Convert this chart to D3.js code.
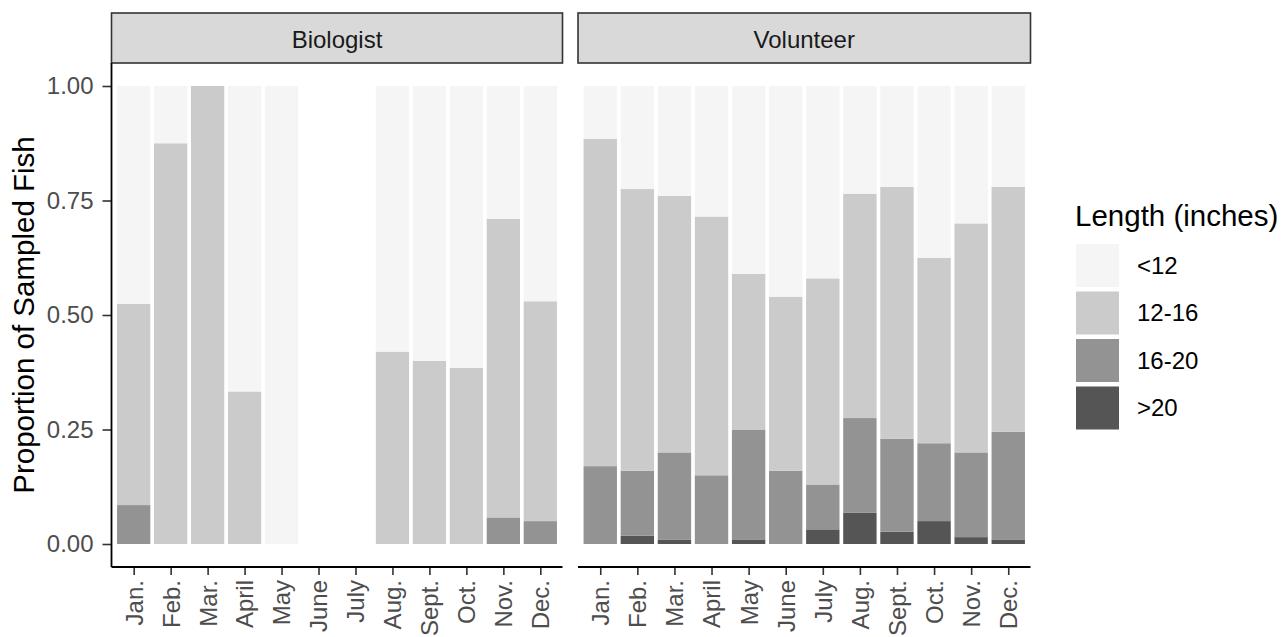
<!DOCTYPE html>
<html>
<head>
<meta charset="utf-8">
<script src="https://cdn.jsdelivr.net/npm/d3@7"></script>
<style>
  html, body { margin: 0; padding: 0; background: #fff; }
  svg { display: block; font-family: "Liberation Sans", Arial, sans-serif; }
</style>
</head>
<body>
<svg id="chart" width="1287" height="637"></svg>
<script>
// Month categories and length classes
const months = ["Jan.", "Feb.", "Mar.", "April", "May", "June", "July", "Aug.", "Sept.", "Oct.", "Nov.", "Dec."];
const lengthClasses = ["<12", "12-16", "16-20", ">20"];
const panels = ["Biologist", "Volunteer"];
const yTicks = [0, 0.25, 0.5, 0.75, 1.0];

// Proportions per month (null = no fish sampled that month)
const bioUnder12 = [0.476, 0.125, 0.0, 0.667, 1.0, null, null, 0.58, 0.60, 0.615, 0.29, 0.47];
const bio12to16  = [0.439, 0.875, 1.0, 0.333, 0.0, null, null, 0.42, 0.40, 0.385, 0.652, 0.48];
const bio16to20  = [0.085, 0.0, 0.0, 0.0, 0.0, null, null, 0.0, 0.0, 0.0, 0.058, 0.05];
const bioOver20  = [0.0, 0.0, 0.0, 0.0, 0.0, null, null, 0.0, 0.0, 0.0, 0.0, 0.0];

const volUnder12 = [0.115, 0.225, 0.24, 0.285, 0.41, 0.46, 0.42, 0.235, 0.22, 0.375, 0.30, 0.22];
const vol12to16  = [0.715, 0.615, 0.56, 0.565, 0.34, 0.38, 0.45, 0.49, 0.55, 0.405, 0.50, 0.535];
const vol16to20  = [0.17, 0.142, 0.191, 0.15, 0.24, 0.16, 0.098, 0.207, 0.203, 0.17, 0.185, 0.235];
const volOver20  = [0.0, 0.018, 0.009, 0.0, 0.01, 0.0, 0.032, 0.068, 0.027, 0.05, 0.015, 0.01];

const fillColors = ["#f5f5f5", "#cbcbcb", "#939393", "#555555"];

const seriesByPanel = {
  "Biologist": [bioUnder12, bio12to16, bio16to20, bioOver20],
  "Volunteer": [volUnder12, vol12to16, vol16to20, volOver20]
};

const svg = d3.select("#chart");

// Panel geometry
const panelTop = 63, panelBottom = 567;
const panelX = { "Biologist": [111.5, 562.5], "Volunteer": [578, 1030.5] };
const stripTop = 13, stripBottom = 63;
const smallFont = 24, largeFont = 29.5;

const y = d3.scaleLinear().domain([0, 1]).range([544, 86]);
const color = d3.scaleOrdinal().domain(lengthClasses).range(fillColors);

panels.forEach((p, pi) => {
  const [x0, x1] = panelX[p];
  // Discrete axis with 0.6 units of padding on each side, bars 0.9 units wide
  const unit = (x1 - x0) / 12.2;
  const x = d3.scalePoint()
    .domain(months)
    .range([x0 + 0.6 * unit, x1 - 0.6 * unit]);
  const bw = 0.9 * unit;

  const g = svg.append("g");

  // Strip
  g.append("rect")
    .attr("x", x0).attr("y", stripTop)
    .attr("width", x1 - x0).attr("height", stripBottom - stripTop)
    .attr("fill", "#d9d9d9").attr("stroke", "#333333").attr("stroke-width", 1.6);
  g.append("text")
    .attr("x", (x0 + x1) / 2).attr("y", 48)
    .attr("text-anchor", "middle")
    .attr("font-size", smallFont).attr("fill", "#1a1a1a")
    .text(p);

  // Stack the series with <12 on top
  const series = seriesByPanel[p];
  const rows = months.map((m, i) => {
    const r = { month: m };
    lengthClasses.forEach((c, ci) => { r[c] = series[ci][i] == null ? 0 : series[ci][i]; });
    return r;
  });
  const stacked = d3.stack().keys(lengthClasses.slice().reverse())(rows);

  stacked.forEach(layer => {
    g.append("g").selectAll("rect")
      .data(layer.filter(d => d[1] - d[0] > 0))
      .join("rect")
      .attr("x", d => x(d.data.month) - bw / 2)
      .attr("width", bw)
      .attr("y", d => y(d[1]))
      .attr("height", d => y(d[0]) - y(d[1]))
      .attr("fill", color(layer.key));
  });

  // X axis
  const xAxis = g.append("g")
    .attr("transform", `translate(0,${panelBottom})`)
    .call(d3.axisBottom(x).tickSize(8).tickSizeOuter(0));
  xAxis.select(".domain").remove();
  g.append("line")
    .attr("x1", x0).attr("x2", x1)
    .attr("y1", panelBottom).attr("y2", panelBottom)
    .attr("stroke", "#000").attr("stroke-width", 1.8);
  xAxis.selectAll(".tick line").attr("stroke", "#333").attr("stroke-width", 1.6);
  xAxis.selectAll(".tick text")
    .attr("font-size", smallFont)
    .attr("fill", "#4d4d4d")
    .attr("font-family", "Liberation Sans, Arial, sans-serif")
    .attr("text-anchor", "end")
    .attr("transform", "rotate(-90)")
    .attr("x", -13)
    .attr("y", 0)
    .attr("dy", "0.35em");

  // Y axis on the first panel only
  if (pi === 0) {
    const yAxis = g.append("g")
      .attr("transform", `translate(${x0},0)`)
      .call(d3.axisLeft(y).tickValues(yTicks).tickFormat(d3.format(".2f")).tickSize(9));
    yAxis.select(".domain").remove();
    g.append("line")
      .attr("x1", x0).attr("x2", x0)
      .attr("y1", panelTop).attr("y2", panelBottom)
      .attr("stroke", "#000").attr("stroke-width", 1.8);
    yAxis.selectAll(".tick line").attr("stroke", "#333").attr("stroke-width", 1.6);
    yAxis.selectAll(".tick text")
      .attr("font-size", smallFont)
      .attr("fill", "#4d4d4d")
      .attr("font-family", "Liberation Sans, Arial, sans-serif")
      .attr("x", -18);
  }
});

// Y axis title
svg.append("text")
  .attr("transform", `translate(34,${(86 + 544) / 2}) rotate(-90)`)
  .attr("text-anchor", "middle")
  .attr("font-size", largeFont)
  .attr("fill", "#000")
  .text("Proportion of Sampled Fish");

// Legend
const legend = svg.append("g").attr("transform", "translate(1076,0)");
legend.append("text")
  .attr("x", -1).attr("y", 226)
  .attr("font-size", largeFont).attr("fill", "#000")
  .text("Length (inches)");
lengthClasses.forEach((c, i) => {
  const top = 244 + i * 47.5;
  legend.append("rect")
    .attr("x", 0).attr("y", top)
    .attr("width", 43).attr("height", 43)
    .attr("fill", color(c));
  legend.append("text")
    .attr("x", 61).attr("y", top + 21.5)
    .attr("dy", "0.35em")
    .attr("font-size", smallFont).attr("fill", "#000")
    .text(c);
});
</script>
</body>
</html>
